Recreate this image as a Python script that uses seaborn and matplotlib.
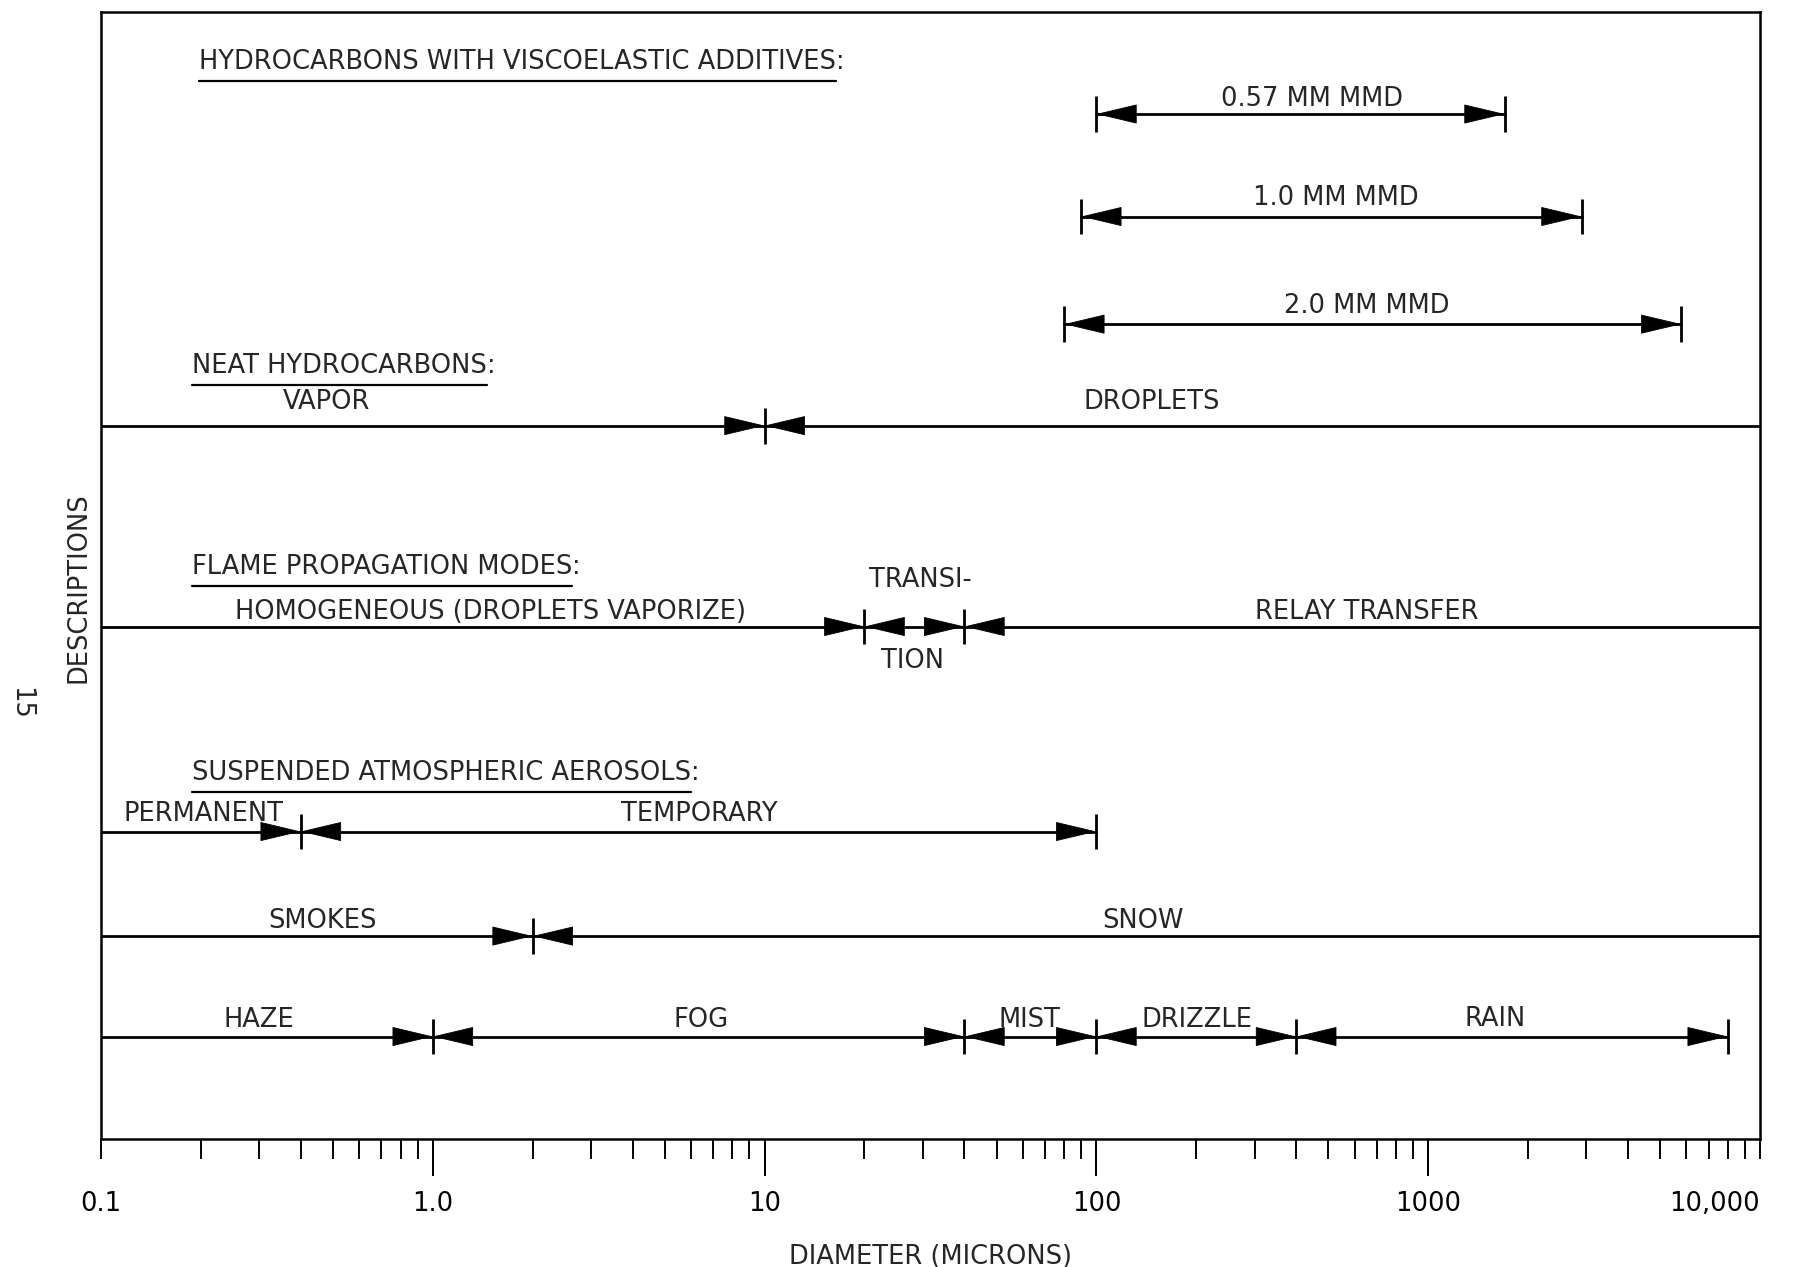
import numpy as np
import pandas as pd
import seaborn as sns
import matplotlib.pyplot as plt
import matplotlib.transforms as mtransforms
from matplotlib.ticker import FixedLocator, FixedFormatter

# ---- data (diameters in microns) ----
row_y = [10.0, 9.0, 7.95, 6.96, 5.0, 3.0, 1.98, 1.0]
row_start = [100, 90, 80, 0.1, 0.1, 0.1, 0.1, 0.1]
row_end = [1700, 2900, 5800, 10000, 10000, 100, 10000, 8000]
row_bounds = [[], [], [], [10], [20, 40], [0.4], [2], [1, 40, 100, 400]]
row_left_cap = [True, True, True, False, False, False, False, False]
row_right_cap = [True, True, True, False, False, True, False, True]

label_text = ["0.57 MM MMD", "1.0 MM MMD", "2.0 MM MMD",
              "VAPOR", "DROPLETS",
              "HOMOGENEOUS (DROPLETS VAPORIZE)", "TRANSI-", "TION", "RELAY TRANSFER",
              "PERMANENT", "TEMPORARY",
              "SMOKES", "SNOW",
              "HAZE", "FOG", "MIST", "DRIZZLE", "RAIN"]
label_x = [446, 527, 653,
           0.477, 147,
           1.49, 29.5, 28, 653,
           0.203, 6.37,
           0.466, 138,
           0.30, 6.42, 62.7, 201, 1596]
label_y = [10.08, 9.11, 8.055,
           7.12, 7.12,
           5.07, 5.39, 4.60, 5.07,
           3.10, 3.10,
           2.06, 2.06,
           1.09, 1.09, 1.09, 1.09, 1.10]

header_text = ["HYDROCARBONS WITH VISCOELASTIC ADDITIVES",
               "NEAT HYDROCARBONS",
               "FLAME PROPAGATION MODES",
               "SUSPENDED ATMOSPHERIC AEROSOLS"]
header_x = [0.197, 0.188, 0.188, 0.188]
header_y = [10.44, 7.47, 5.51, 3.50]

# decades with long ticks, and the two end decades drawn with short ticks
tick_vals = [1, 10, 100, 1000]
tick_labels = ["1.0", "10", "100", "1000"]
end_vals = [0.1, 10000]
end_labels = ["0.1", "10,000"]
minor_vals = [m * 10.0 ** e for e in range(-1, 4) for m in range(2, 10)]

# ---- style ----
sns.set_style("ticks")
plt.rcParams["font.family"] = ["DejaVu Sans"]
FS = 18.5

fig, ax = plt.subplots(figsize=(18.01, 12.67), dpi=100)
fig.subplots_adjust(left=0.0561, right=0.9772, bottom=0.101, top=0.9909)

# horizontal range lines
seg = pd.DataFrame({
    "x": [v for pair in zip(row_start, row_end) for v in pair],
    "y": [v for v in row_y for _ in range(2)],
    "row": [i for i in range(len(row_y)) for _ in range(2)],
})
sns.lineplot(data=seg, x="x", y="y", units="row", estimator=None, sort=False,
             color="black", lw=2.0, ax=ax, legend=False)

ax.set_xscale("log")
ax.set_xlim(0.1, 10000)
ax.set_ylim(0, 11)


def arrowhead(x, y, direction):
    # filled head whose tip sits at x, pointing right (+1) or left (-1)
    ax.annotate("", xy=(x, y), xycoords="data",
                xytext=(-direction * 27.4, 0), textcoords="offset points",
                arrowprops=dict(arrowstyle="-|>,head_length=27.4,head_width=6.5",
                                mutation_scale=1, shrinkA=0, shrinkB=0,
                                color="black", lw=0.6))


half_bar = 0.175
for i, y in enumerate(row_y):
    for b in row_bounds[i]:
        ax.vlines(b, y - half_bar, y + half_bar, color="black", lw=2.0)
        arrowhead(b, y, 1)
        arrowhead(b, y, -1)
    if row_left_cap[i]:
        ax.vlines(row_start[i], y - half_bar, y + half_bar, color="black", lw=2.0)
        arrowhead(row_start[i], y, -1)
    if row_right_cap[i]:
        ax.vlines(row_end[i], y - half_bar, y + half_bar, color="black", lw=2.0)
        arrowhead(row_end[i], y, 1)

for t, x, y in zip(label_text, label_x, label_y):
    ax.text(x, y, t, ha="center", va="baseline", fontsize=FS)

headers = []
for t, x, y in zip(header_text, header_x, header_y):
    headers.append(ax.text(x, y, t, ha="left", va="baseline", fontsize=FS))

# axes / ticks
ax.set_yticks([])
ax.xaxis.set_major_locator(FixedLocator(tick_vals))
ax.xaxis.set_major_formatter(FixedFormatter(tick_labels))
ax.xaxis.set_minor_locator(FixedLocator(end_vals + minor_vals))
ax.xaxis.set_minor_formatter(FixedFormatter(end_labels + [""] * len(minor_vals)))
ax.tick_params(axis="x", which="major", length=26.6, width=1.4, pad=11, labelsize=FS,
               colors="black", direction="out")
ax.tick_params(axis="x", which="minor", length=14.4, width=1.4, pad=23.2, labelsize=FS,
               colors="black", direction="out")
for s in ax.spines.values():
    s.set_linewidth(1.8)
    s.set_color("black")

# long decade ticks drawn explicitly below the axis
trans = mtransforms.blended_transform_factory(ax.transData, ax.transAxes)
ax.vlines(tick_vals, -37 / 1127.5, 0, transform=trans, color="black", lw=1.4,
          clip_on=False)

ax.set_xlabel("DIAMETER (MICRONS)", fontsize=FS, labelpad=19)
ax.set_ylabel("")
fig.text(78 / 1801, 1 - 588 / 1267, "DESCRIPTIONS", rotation=90,
         ha="center", va="center", fontsize=FS)
fig.text(20 / 1801, 1 - 703 / 1267, "15", rotation=-90,
         ha="center", va="center", fontsize=FS)

# underline headers (colon left outside the underline)
fig.canvas.draw()
renderer = fig.canvas.get_renderer()
for lab in ax.xaxis.get_minorticklabels():
    if lab.get_text() == "10,000":
        lab.set_horizontalalignment("right")
inv = ax.transData.inverted()
for h, y in zip(headers, header_y):
    bb = h.get_window_extent(renderer)
    x0 = inv.transform((bb.x0, bb.y0))[0]
    x1 = inv.transform((bb.x1, bb.y0))[0]
    ax.plot([x0, x1], [y - 0.115, y - 0.115], color="black", lw=1.6,
            solid_capstyle="round")
    ax.text(x1, y, ":", ha="left", va="baseline", fontsize=FS)

fig.savefig("out.png", dpi=100, facecolor="white")
